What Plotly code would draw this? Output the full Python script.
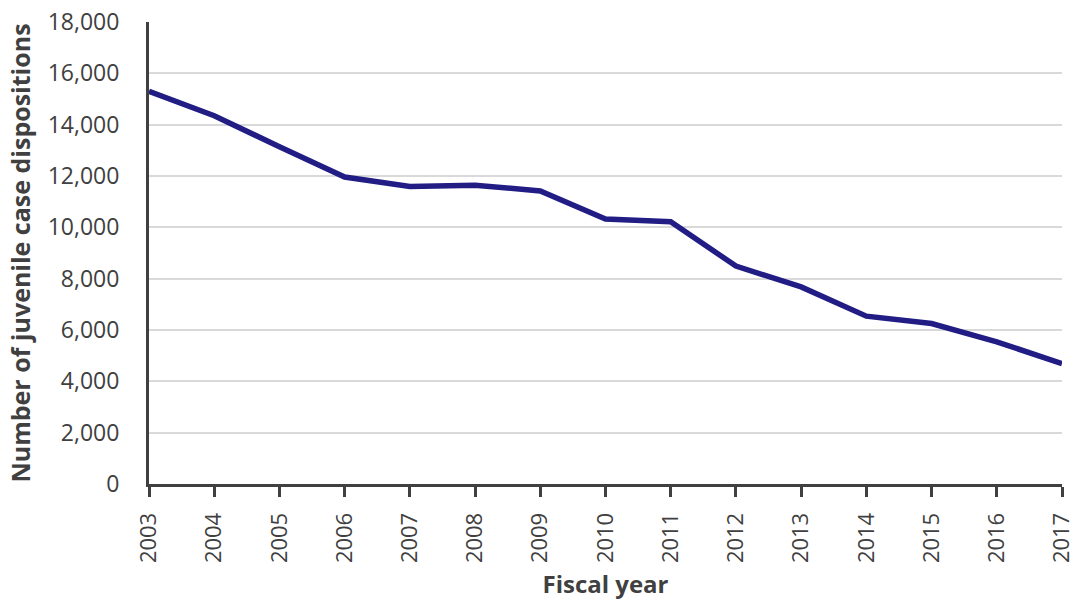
import plotly.graph_objects as go

years = [2003, 2004, 2005, 2006, 2007, 2008, 2009, 2010, 2011, 2012, 2013, 2014, 2015, 2016, 2017]
dispositions = [15300, 14350, 13140, 11960, 11590, 11640, 11420, 10320, 10220, 8490, 7680, 6540, 6250, 5540, 4690]
y_ticks = list(range(0, 18001, 2000))

fig = go.Figure()
fig.add_trace(go.Scatter(x=years, y=dispositions, mode="lines",
                         line=dict(color="#211d84", width=5.5), cliponaxis=False))

font_family = "Open Sans, Noto Sans, sans-serif"
fig.update_layout(
    width=1078, height=603,
    margin=dict(l=149, r=16, t=22, b=119),
    plot_bgcolor="white", paper_bgcolor="white",
    showlegend=False,
    font=dict(family=font_family, color="#404040", size=23),
)
fig.update_xaxes(
    range=[2003, 2017], tickvals=years, ticktext=[str(y) for y in years],
    tickangle=-90, tickfont=dict(size=22, color="#404040"),
    showgrid=False, zeroline=False, automargin=False,
    ticklabeloverflow="allow",
    showline=True, linecolor="#404040", linewidth=3,
    ticks="outside", ticklen=10, tickwidth=3, tickcolor="#404040",
    ticklabelstandoff=7,
    title=dict(text="<b>Fiscal year</b>", font=dict(size=24, color="#404040"), standoff=15),
)
fig.update_yaxes(
    range=[0, 18000], tickvals=y_ticks, tickformat=",",
    tickfont=dict(size=23, color="#404040"), automargin=False,
    showgrid=True, gridcolor="#d9d9d9", gridwidth=2, zeroline=False,
    showline=True, linecolor="#404040", linewidth=3, ticks="", ticklabelstandoff=22,
    title=dict(text="<b>Number of juvenile case dispositions</b>", font=dict(size=25, color="#404040"), standoff=10),
)
fig.write_html("out.html")
